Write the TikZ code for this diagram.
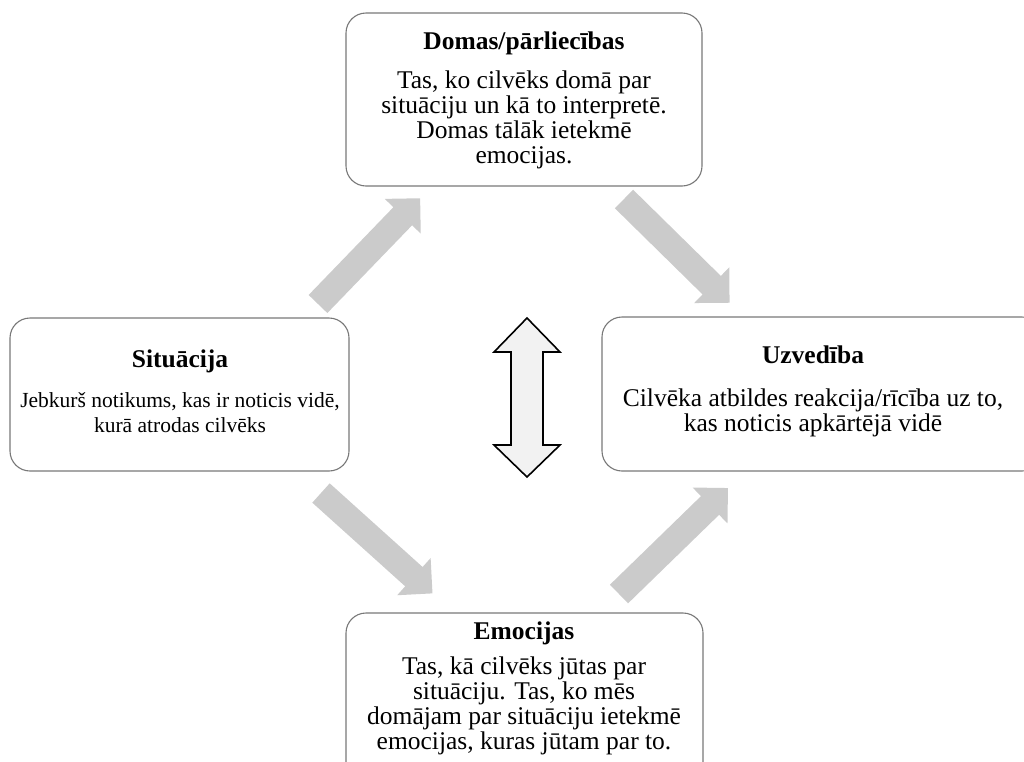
\documentclass[tikz,border=0pt]{standalone}
\usepackage{fontspec}
\setmainfont{Liberation Serif}
\begin{document}
\begin{tikzpicture}[x=1pt,y=-1pt,
  box/.style={draw={rgb,255:red,120;green,120;blue,120}, line width=1.1pt, rounded corners=20pt, inner sep=0pt, fill=white},
  txt/.style={align=center, inner sep=0pt, font=\fontsize{25.5}{25}\selectfont},
  blockfill/.style={fill={rgb,255:red,203;green,203;blue,203}},
  dblarrow/.style={draw=black, line width=1.6pt, fill={rgb,255:red,242;green,242;blue,242}, line join=miter}]
\useasboundingbox (0,0) rectangle (1024,761);
\clip (0,0) rectangle (1024,761);
\newcommand\blockarrow[3]{%
  \begin{scope}[shift={(#1)}, rotate=#2]
    \fill[blockfill] (0,13) -- ({#3-25},13) -- ({#3-25},25) -- (#3,0) -- ({#3-25},-25) -- ({#3-25},-13) -- (0,-13) -- cycle;
  \end{scope}}
% boxes
\node[box, minimum width=356pt, minimum height=173pt] (top) at (524,99.5) {};
\node[box, minimum width=339pt, minimum height=153pt] (left) at (179.5,394.5) {};
\node[box, minimum width=440pt, minimum height=154pt] (right) at (822,394) {};
\node[box, minimum width=357pt, minimum height=180pt] (bottom) at (524.5,703) {};
% texts
\node[txt] (topt) at (524,100.5) {\textbf{Domas/pārliecības}\\[14pt]Tas, ko cilvēks domā par\\situāciju un kā to interpretē.\\Domas tālāk ietekmē\\emocijas.};
\node[txt] (leftt) at (180,391.5) {\textbf{Situācija}\\[15pt]{\fontsize{21.5}{25}\selectfont Jebkurš notikums, kas ir noticis vidē,}\\{\fontsize{21.5}{25}\selectfont kurā atrodas cilvēks}};
\node[txt] (rightt) at (813,391.5) {\textbf{Uzvedība}\\[18pt]Cilvēka atbildes reakcija/rīcība uz to,\\kas noticis apkārtējā vidē};
\node[txt] (bottomt) at (524,688) {\textbf{Emocijas}\\[10pt]Tas, kā cilvēks jūtas par\\situāciju. Tas, ko mēs\\domājam par situāciju ietekmē\\emocijas, kuras jūtam par to.};
% block arrows
\coordinate (a1) at (318,304);
\coordinate (a2) at (624,199);
\coordinate (a3) at (321,493);
\coordinate (a4) at (619,594);
\blockarrow{a1}{46}{147}
\blockarrow{a2}{-44.5}{148}
\blockarrow{a3}{-42}{150}
\blockarrow{a4}{44.2}{152}
% double arrow
\coordinate (dt) at (527,318);
\coordinate (db) at (527,477);
\draw[dblarrow] (dt) -- (560,352) -- (543,352) -- (543,445) -- (560,445) -- (db) -- (494,445) -- (511,445) -- (511,352) -- (494,352) -- cycle;
\end{tikzpicture}
\end{document}
